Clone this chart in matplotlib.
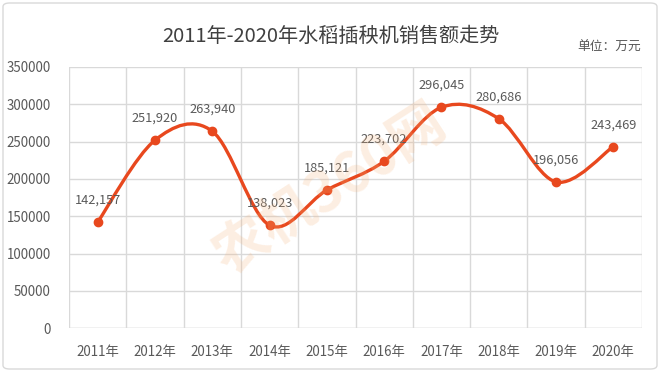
import numpy as np
import matplotlib
matplotlib.use("Agg")
import matplotlib.pyplot as plt
from matplotlib.path import Path
from matplotlib.patches import PathPatch, FancyBboxPatch

plt.rcParams['font.family'] = ['Noto Sans CJK SC', 'DejaVu Sans']

# --- data ---
years = ['2011年', '2012年', '2013年', '2014年', '2015年',
         '2016年', '2017年', '2018年', '2019年', '2020年']
sales = [142157, 251920, 263940, 138023, 185121,
         223702, 296045, 280686, 196056, 243469]

line_color = '#E8481E'
text_gray = '#595959'
grid_gray = '#D9D9D9'

fig = plt.figure(figsize=(6.6, 3.72), dpi=100)
ax = fig.add_axes([69 / 660, 1 - 328.3 / 372, 573 / 660, 261.3 / 372])

x = np.arange(len(sales), dtype=float)
y = np.array(sales, dtype=float)

# smoothed line like Excel (bezier segments through the points)
verts = [(x[0], y[0])]
codes = [Path.MOVETO]
n = len(x)
for i in range(n - 1):
    p0 = np.array([x[max(i - 1, 0)], y[max(i - 1, 0)]])
    p1 = np.array([x[i], y[i]])
    p2 = np.array([x[i + 1], y[i + 1]])
    p3 = np.array([x[min(i + 2, n - 1)], y[min(i + 2, n - 1)]])
    c1 = p1 + (p2 - p0) / 6
    c2 = p2 - (p3 - p1) / 6
    verts += [tuple(c1), tuple(c2), tuple(p2)]
    codes += [Path.CURVE4] * 3
ax.add_patch(PathPatch(Path(verts, codes), facecolor='none',
                       edgecolor=line_color, lw=2.4, capstyle='round',
                       zorder=3))
ax.plot(x, y, 'o', color=line_color, ms=6, zorder=4)

for xi, yi in zip(x, y):
    ax.annotate(f'{int(yi):,}', (xi, yi), xytext=(0, 11),
                textcoords='offset points', ha='center', va='bottom',
                fontsize=9.2, color=text_gray, zorder=5)

ax.set_xlim(-0.5, n - 0.5)
ax.set_ylim(0, 350000)
ax.set_yticks(np.arange(0, 350001, 50000))
ax.set_yticklabels([str(v) for v in range(0, 350001, 50000)])
ax.set_xticks(x)
ax.set_xticklabels(years)
ax.set_xticks(np.arange(-0.5, n, 1.0), minor=True)
ax.grid(True, which='minor', axis='x', color=grid_gray, lw=1)
ax.grid(True, which='major', axis='y', color=grid_gray, lw=1)
ax.set_axisbelow(True)
ax.tick_params(which='both', length=0)
ax.tick_params(axis='both', labelsize=9.6, colors=text_gray)
ax.tick_params(axis='x', pad=12)
ax.tick_params(axis='y', pad=13)
for s in ax.spines.values():
    s.set_visible(False)
ax.axhline(0, color=grid_gray, lw=1, zorder=1)

# watermark
fig.text(0.5, 0.49, '农机360网', rotation=33, ha='center', va='center',
         fontsize=40, fontweight='bold', color='#F5B27A', alpha=0.22,
         zorder=0)

fig.text(331 / 660, 1 - 36 / 372, '2011年-2020年水稻插秧机销售额走势',
         ha='center', va='center', fontsize=14.5, color='#404040')
fig.text(641 / 660, 1 - 47 / 372, '单位：万元', ha='right', va='center',
         fontsize=9.2, color=text_gray)

fig.patches.append(FancyBboxPatch((3 / 660, 3 / 372), 654 / 660, 366 / 372,
                                  boxstyle='round,pad=0,rounding_size=0.01',
                                  transform=fig.transFigure, fill=False,
                                  edgecolor=grid_gray, lw=1))

fig.savefig('out.png', dpi=100)
